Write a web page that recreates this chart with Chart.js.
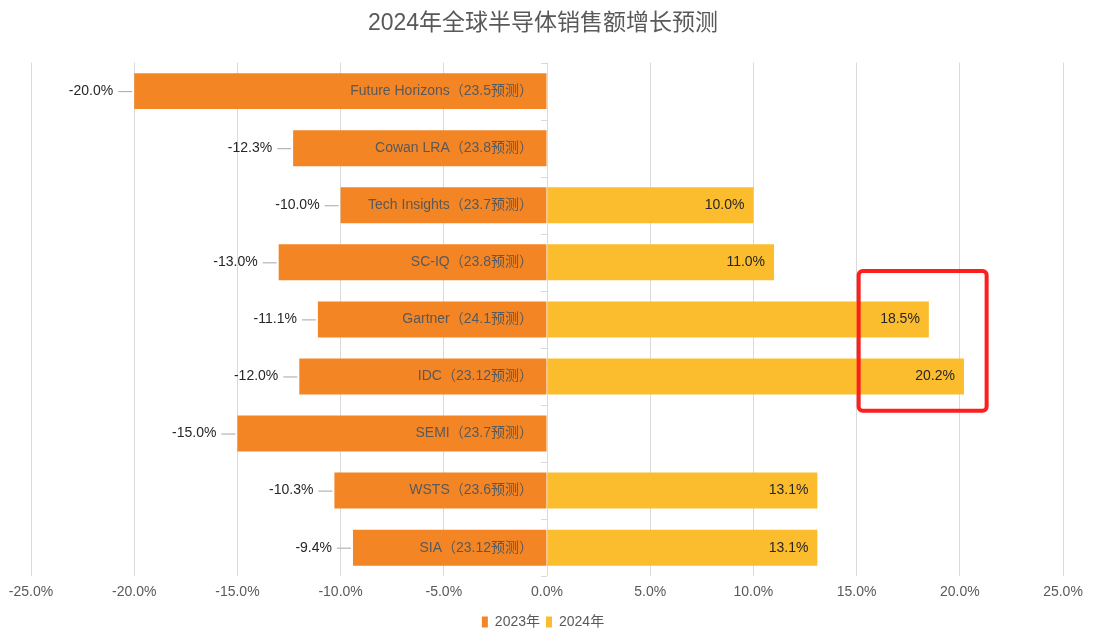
<!DOCTYPE html>
<html lang="zh">
<head>
  <meta charset="UTF-8">
  <title>2024年全球半导体销售额增长预测</title>
  <style>
    *{margin:0;padding:0;box-sizing:border-box}
    body{background:#fff;width:1099px;height:639px;overflow:hidden}
    canvas{display:block}
  </style>
</head>
<body>
  <canvas id="chart" width="1099" height="639"></canvas>

  <script src="https://cdn.jsdelivr.net/npm/chart.js"></script>
  <script>
    // data
    const categories = [
      'Future Horizons（23.5预测）',
      'Cowan LRA（23.8预测）',
      'Tech Insights（23.7预测）',
      'SC-IQ（23.8预测）',
      'Gartner（24.1预测）',
      'IDC（23.12预测）',
      'SEMI（23.7预测）',
      'WSTS（23.6预测）',
      'SIA（23.12预测）'
    ];
    const growth2023 = [-20.0, -12.3, -10.0, -13.0, -11.1, -12.0, -15.0, -10.3, -9.4];
    const growth2024 = [null, null, 10.0, 11.0, 18.5, 20.2, null, 13.1, 13.1];
    const xTicks = [-25, -20, -15, -10, -5, 0, 5, 10, 15, 20, 25];

    const FONT = '"Liberation Sans", Arial, "Noto Sans CJK SC", sans-serif';
    const ORANGE = '#F38525';
    const YELLOW = '#FBBD2D';

    // labels, leader lines, zero-axis ticks, red highlight box
    const decor = {
      id: 'decor',
      afterDatasetsDraw(chart) {
        const ctx = chart.ctx, x = chart.scales.x, y = chart.scales.y;
        const x0 = x.getPixelForValue(0);
        ctx.save();

        // small ticks on the zero axis
        ctx.strokeStyle = '#d9d9d9'; ctx.lineWidth = 1;
        for (let i = 0; i <= categories.length; i++) {
          const py = Math.round(y.getPixelForValue(i - 0.5)) + 0.5;
          ctx.beginPath(); ctx.moveTo(x0 - 6, py); ctx.lineTo(x0, py); ctx.stroke();
        }

        ctx.font = '14px ' + FONT;
        ctx.textBaseline = 'middle';
        categories.forEach((c, i) => {
          const py = y.getPixelForValue(i);
          // category name inside orange bar
          ctx.fillStyle = '#595959'; ctx.textAlign = 'right';
          ctx.fillText(c, x0 - 14, py);
          // 2023 value outside with leader line
          const v = growth2023[i];
          const xs = x.getPixelForValue(v);
          ctx.strokeStyle = '#a6a6a6';
          ctx.beginPath(); ctx.moveTo(xs - 16, py + 0.5); ctx.lineTo(xs - 2, py + 0.5); ctx.stroke();
          ctx.fillStyle = '#262626';
          ctx.fillText(v.toFixed(1) + '%', xs - 21, py);
          // 2024 value inside end
          const w = growth2024[i];
          if (w != null) {
            ctx.fillText(w.toFixed(1) + '%', x.getPixelForValue(w) - 9, py);
          }
        });

        // red highlight around Gartner / IDC 2024
        const bx1 = x.getPixelForValue(15.1), bx2 = x.getPixelForValue(21.3);
        const by1 = y.getPixelForValue(3.15), by2 = y.getPixelForValue(5.6);
        ctx.strokeStyle = '#FF1E1E'; ctx.lineWidth = 4;
        ctx.beginPath();
        if (ctx.roundRect) ctx.roundRect(bx1, by1, bx2 - bx1, by2 - by1, 4);
        else ctx.rect(bx1, by1, bx2 - bx1, by2 - by1);
        ctx.stroke();
        ctx.restore();
      }
    };

    new Chart(document.getElementById('chart'), {
      type: 'bar',
      data: {
        labels: categories,
        datasets: [
          { label: '2023年', data: growth2023, backgroundColor: ORANGE, borderWidth: 0,
            barPercentage: 0.63, categoryPercentage: 1 },
          { label: '2024年', data: growth2024, backgroundColor: YELLOW, borderWidth: 0,
            barPercentage: 0.63, categoryPercentage: 1 }
        ]
      },
      options: {
        indexAxis: 'y',
        responsive: false,
        animation: false,
        layout: { padding: { left: 23, right: 36, top: 2, bottom: 0 } },
        scales: {
          x: {
            stacked: true, min: -25, max: 25,
            afterBuildTicks: s => { s.ticks = xTicks.map(v => ({ value: v })); },
            grid: { color: '#d9d9d9', drawTicks: false },
            border: { display: false },
            ticks: { color: '#595959', font: { size: 14, family: FONT }, padding: 8,
                     maxRotation: 0, callback: v => v.toFixed(1) + '%' }
          },
          y: {
            stacked: true,
            grid: { display: false },
            border: { display: false },
            ticks: { display: false }
          }
        },
        plugins: {
          title: { display: true, text: '2024年全球半导体销售额增长预测', color: '#595959',
                   font: { size: 23, weight: 'normal', family: FONT }, padding: { top: 8, bottom: 25 } },
          legend: { position: 'bottom',
                    labels: { color: '#595959', font: { size: 14, family: FONT },
                              boxWidth: 6, boxHeight: 11, padding: 6 } },
          tooltip: { enabled: false }
        }
      },
      plugins: [decor]
    });
  </script>
</body>
</html>
